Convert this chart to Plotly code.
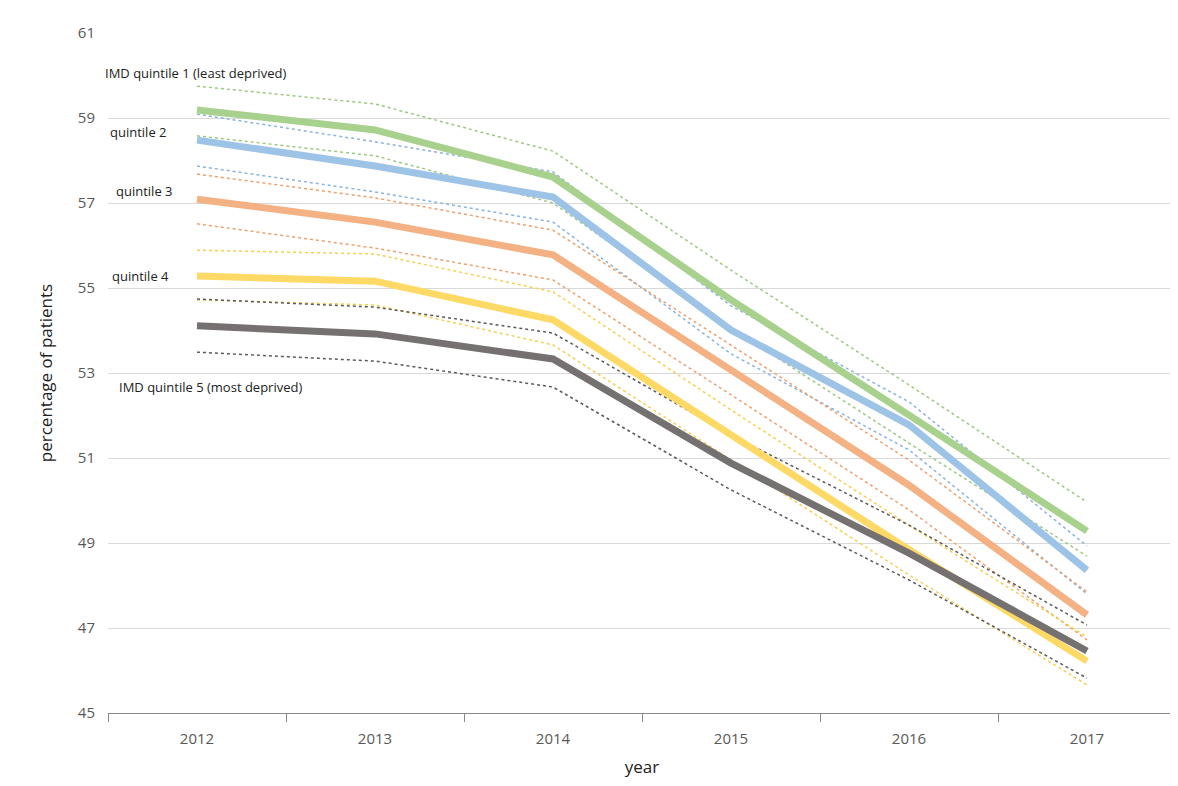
import plotly.graph_objects as go

years = [2012, 2013, 2014, 2015, 2016, 2017]

q1 = [59.19, 58.72, 57.61, 54.72, 52.01, 49.28]
q1_hi = [59.75, 59.33, 58.22, 55.42, 52.72, 49.96]
q1_lo = [58.58, 58.11, 57.00, 54.06, 51.35, 48.69]

q2 = [58.48, 57.87, 57.14, 54.01, 51.78, 48.36]
q2_hi = [59.09, 58.44, 57.73, 54.58, 52.32, 48.93]
q2_lo = [57.87, 57.26, 56.55, 53.45, 51.19, 47.80]

q3 = [57.09, 56.55, 55.78, 53.07, 50.36, 47.31]
q3_hi = [57.68, 57.12, 56.36, 53.66, 50.95, 47.85]
q3_lo = [56.51, 55.94, 55.19, 52.48, 49.78, 46.72]

q4 = [55.28, 55.16, 54.25, 51.54, 48.84, 46.22]
q4_hi = [55.89, 55.80, 54.91, 52.13, 49.42, 46.79]
q4_lo = [54.72, 54.60, 53.66, 50.95, 48.25, 45.66]

q5 = [54.11, 53.92, 53.33, 50.88, 48.76, 46.46]
q5_hi = [54.74, 54.55, 53.94, 51.54, 49.42, 47.07]
q5_lo = [53.49, 53.28, 52.67, 50.25, 48.13, 45.82]

labels = ["IMD quintile 1 (least deprived)", "quintile 2", "quintile 3",
          "quintile 4", "IMD quintile 5 (most deprived)"]
label_y = [60.05, 58.68, 57.28, 55.28, 52.68]
label_x = [-0.005, 0.0, 0.006, 0.002, 0.008]

series = [
    (q1, q1_hi, q1_lo, "#A9D18E", "#9CC97F"),
    (q2, q2_hi, q2_lo, "#9DC3E6", "#8AB4DF"),
    (q3, q3_hi, q3_lo, "#F4B183", "#EFA06D"),
    (q4, q4_hi, q4_lo, "#FFD966", "#F7CF50"),
    (q5, q5_hi, q5_lo, "#767171", "#5E5A5A"),
]

fig = go.Figure()
for mid, hi, lo, col, dcol in series:
    for d in (hi, lo):
        fig.add_trace(go.Scatter(x=years, y=d, mode="lines", showlegend=False,
                                 line=dict(color=dcol, width=1.5, dash="dot")))
for mid, hi, lo, col, dcol in series:
    fig.add_trace(go.Scatter(x=years, y=mid, mode="lines", showlegend=False,
                             line=dict(color=col, width=7)))

for t, x, y in zip(labels, label_x, label_y):
    fig.add_annotation(x=x, xref="paper", y=y, text=t, showarrow=False, xanchor="left",
                       font=dict(size=13, color="#222"))

fig.update_layout(
    width=1178, height=786, plot_bgcolor="white", paper_bgcolor="white",
    margin=dict(l=100, r=10, t=25, b=81),
    font=dict(family="Open Sans, DejaVu Sans", color="#595959"),
    xaxis=dict(range=[2011.5, 2017.5], tickvals=years, showgrid=False, automargin=False,
               showline=True, linecolor="#888", ticks="", ticklabelstandoff=12,
               tickfont=dict(size=15, color="#595959"),
               title=dict(text="year", font=dict(size=17, color="#222"), standoff=14),
               minor=dict(tick0=2011.5, dtick=1, ticks="outside", ticklen=8,
                          tickcolor="#888", showgrid=False)),
    yaxis=dict(range=[45, 61], tickvals=list(range(45, 62, 2)), showgrid=True,
               gridcolor="#D9D9D9", zeroline=False, automargin=False,
               tickfont=dict(size=15, color="#595959"), ticklabelstandoff=12,
               title=dict(text="percentage of patients", font=dict(size=17, color="#222"), standoff=20)),
)
fig.write_html("out.html")
